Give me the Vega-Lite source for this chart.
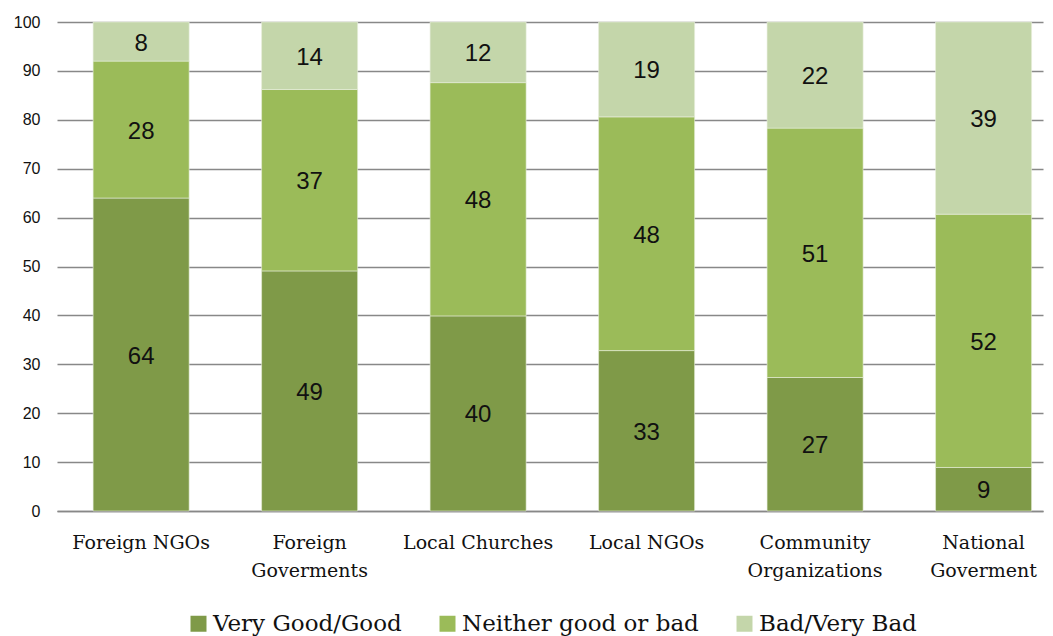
{
  "$schema": "https://vega.github.io/schema/vega-lite/v6.json",
  "width": 986,
  "height": 489,
  "autosize": {"type": "none"},
  "padding": {"left": 57, "top": 22, "right": 10, "bottom": 125},
  "background": "white",
  "config": {"view": {"stroke": null}},
  "data": {
    "values": [
      {"organization": "Foreign NGOs", "rating": "Very Good/Good", "value": 64.0},
      {"organization": "Foreign NGOs", "rating": "Neither good or bad", "value": 28.0},
      {"organization": "Foreign NGOs", "rating": "Bad/Very Bad", "value": 8.0},
      {"organization": "Foreign Goverments", "rating": "Very Good/Good", "value": 49.1},
      {"organization": "Foreign Goverments", "rating": "Neither good or bad", "value": 37.1},
      {"organization": "Foreign Goverments", "rating": "Bad/Very Bad", "value": 13.8},
      {"organization": "Local Churches", "rating": "Very Good/Good", "value": 39.9},
      {"organization": "Local Churches", "rating": "Neither good or bad", "value": 47.7},
      {"organization": "Local Churches", "rating": "Bad/Very Bad", "value": 12.4},
      {"organization": "Local NGOs", "rating": "Very Good/Good", "value": 32.8},
      {"organization": "Local NGOs", "rating": "Neither good or bad", "value": 47.8},
      {"organization": "Local NGOs", "rating": "Bad/Very Bad", "value": 19.4},
      {"organization": "Community Organizations", "rating": "Very Good/Good", "value": 27.3},
      {"organization": "Community Organizations", "rating": "Neither good or bad", "value": 51.0},
      {"organization": "Community Organizations", "rating": "Bad/Very Bad", "value": 21.7},
      {"organization": "National Goverment", "rating": "Very Good/Good", "value": 8.9},
      {"organization": "National Goverment", "rating": "Neither good or bad", "value": 51.8},
      {"organization": "National Goverment", "rating": "Bad/Very Bad", "value": 39.3}
    ]
  },
  "transform": [
    {"stack": "value", "groupby": ["organization"], "sort": [{"field": "rating", "order": "descending"}], "as": ["v0", "v1"]},
    {"calculate": "(datum.v0 + datum.v1) / 2", "as": "mid"}
  ],
  "encoding": {
    "x": {
      "field": "organization",
      "type": "nominal",
      "sort": ["Foreign NGOs", "Foreign Goverments", "Local Churches", "Local NGOs", "Community Organizations", "National Goverment"],
      "scale": {"paddingInner": 0.43, "paddingOuter": 0.141, "align": 0.76},
      "axis": {
        "title": null,
        "labelAngle": 0,
        "labelFont": "DejaVu Serif",
        "labelFontSize": 19,
        "labelColor": "#111111",
        "labelPadding": 22,
        "labelLineHeight": 28,
        "labelExpr": "indexof(['Foreign Goverments','Community Organizations','National Goverment'], datum.label) >= 0 ? split(datum.label, ' ') : datum.label",
        "ticks": false,
        "domain": true,
        "domainColor": "#888888",
        "domainWidth": 1.5,
        "grid": false
      }
    }
  },
  "layer": [
    {
      "mark": {"type": "bar", "stroke": "#e8efdc", "strokeWidth": 0.6},
      "encoding": {
        "y": {
          "field": "v0",
          "type": "quantitative",
          "scale": {"domain": [0, 100], "nice": false},
          "axis": {
            "title": null,
            "values": [0, 10, 20, 30, 40, 50, 60, 70, 80, 90, 100],
            "labelFont": "Liberation Sans",
            "labelFontSize": 16,
            "labelColor": "#111111",
            "labelPadding": 17,
            "ticks": false,
            "domain": false,
            "grid": true,
            "gridColor": "#888888",
            "gridWidth": 1.5
          }
        },
        "y2": {"field": "v1"},
        "color": {
          "field": "rating",
          "type": "nominal",
          "scale": {
            "domain": ["Very Good/Good", "Neither good or bad", "Bad/Very Bad"],
            "range": ["#7F9A48", "#9BBB59", "#C4D6AA"]
          },
          "legend": {
            "title": null,
            "orient": "none",
            "direction": "horizontal",
            "legendX": 130,
            "legendY": 590,
            "padding": 0,
            "symbolType": "square",
            "symbolSize": 256,
            "symbolStrokeWidth": 0,
            "symbolOpacity": 1,
            "labelFont": "DejaVu Serif",
            "labelFontSize": 23,
            "labelColor": "#111111",
            "labelOffset": 3,
            "columnPadding": 34,
            "labelLimit": 400
          }
        }
      }
    },
    {
      "mark": {"type": "text", "font": "Liberation Sans", "fontSize": 24, "color": "#111111", "baseline": "middle", "align": "center", "dy": 2},
      "encoding": {
        "y": {"field": "mid", "type": "quantitative"},
        "text": {"field": "value", "type": "quantitative", "format": ".0f"}
      }
    }
  ]
}
